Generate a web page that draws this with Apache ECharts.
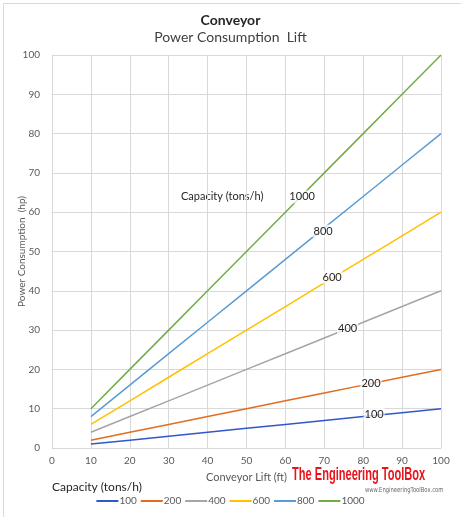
<!DOCTYPE html>
<html><head><meta charset="utf-8">
<script src="https://cdn.jsdelivr.net/npm/echarts@6/dist/echarts.min.js"></script>
<style>html,body{margin:0;padding:0;background:#fff}#c{width:461px;height:517px}</style>
</head><body><div id="c"></div>
<script>
const lift = [10, 20, 30, 40, 50, 60, 70, 80, 90, 100];
const cap100 = [1, 2, 3, 4, 5, 6, 7, 8, 9, 10];
const cap200 = [2, 4, 6, 8, 10, 12, 14, 16, 18, 20];
const cap400 = [4, 8, 12, 16, 20, 24, 28, 32, 36, 40];
const cap600 = [6, 12, 18, 24, 30, 36, 42, 48, 54, 60];
const cap800 = [8, 16, 24, 32, 40, 48, 56, 64, 72, 80];
const cap1000 = [10, 20, 30, 40, 50, 60, 70, 80, 90, 100];
const seriesNames = ['100', '200', '400', '600', '800', '1000'];
const seriesValues = [cap100, cap200, cap400, cap600, cap800, cap1000];
const colors = ['#3158C8', '#E36C1E', '#A5A5A5', '#FFC000', '#5B9BD5', '#70AD47'];
// inline label positions (data units) for each series
const labelAt = [[82.8, 8.6], [82, 16.5], [76, 30.5], [72, 43.5], [69.7, 55.2], [64.3, 63.9]];

const font = 'Lato, "Open Sans", sans-serif';
const chart = echarts.init(document.getElementById('c'), null, {renderer: 'canvas'});
chart.setOption({
  animation: false,
  color: colors,
  title: [
    {text: 'Conveyor', left: 'center', top: 8, textStyle: {fontFamily: font, fontSize: 14, fontWeight: 'bold', color: '#262626'}},
    {text: 'Power Consumption  Lift', left: 'center', top: 25, textStyle: {fontFamily: font, fontSize: 14, fontWeight: 'normal', color: '#404040'}}
  ],
  grid: {left: 52, right: 20, top: 55, bottom: 69, containLabel: false, outerBoundsMode: 'none'},
  xAxis: {
    type: 'value', min: 0, max: 100, interval: 10,
    name: 'Conveyor Lift (ft)', nameLocation: 'middle', nameGap: 24, nameMoveOverlap: false,
    nameTextStyle: {fontFamily: font, fontSize: 11, color: '#595959'},
    axisLine: {show: true, lineStyle: {color: '#D9D9D9'}},
    axisTick: {show: false},
    axisLabel: {fontFamily: font, fontSize: 10, color: '#595959', margin: 8},
    splitLine: {show: true, lineStyle: {color: '#D9D9D9'}}
  },
  yAxis: {
    type: 'value', min: 0, max: 100, interval: 10,
    name: 'Power Consumption  (hp)', nameLocation: 'middle', nameGap: 25, nameRotate: 90, nameMoveOverlap: false,
    nameTextStyle: {fontFamily: font, fontSize: 10, color: '#595959'},
    axisLine: {show: true, lineStyle: {color: '#D9D9D9'}},
    axisTick: {show: false},
    axisLabel: {fontFamily: font, fontSize: 10, color: '#595959', margin: 12},
    splitLine: {show: true, lineStyle: {color: '#D9D9D9'}}
  },
  legend: {
    bottom: 6, left: 'center', itemGap: 4, itemWidth: 22, itemHeight: 2,
    icon: 'rect',
    textStyle: {fontFamily: font, fontSize: 10, color: '#595959', padding: [0, 6, 0, -4]},
    data: seriesNames
  },
  graphic: [
    {type: 'rect', left: 1, top: 1, shape: {width: 458, height: 514}, style: {fill: 'none', stroke: '#D9D9D9', lineWidth: 1}, silent: true},
    {type: 'text', left: 181, top: 191, style: {text: 'Capacity (tons/h)', font: '11px ' + font, fill: '#262626'}},
    {type: 'text', left: 52, top: 481, style: {text: 'Capacity (tons/h)', font: '12px ' + font, fill: '#262626'}},
    {type: 'text', x: 292, y: 466, scaleX: 0.615, style: {text: 'The Engineering ToolBox', font: 'bold 18px "Liberation Sans", sans-serif', fill: '#E8141B'}},
    {type: 'text', x: 365, y: 487, scaleX: 0.75, style: {text: 'www.EngineeringToolBox.com', font: '7px "DejaVu Sans", sans-serif', fill: '#666'}}
  ],
  series: seriesNames.map((n, i) => ({
    name: n, type: 'line', symbol: 'none',
    lineStyle: {width: 1.5, color: colors[i]},
    data: lift.map((x, j) => [x, seriesValues[i][j]]),
    markPoint: {
      symbol: 'circle', symbolSize: 0,
      data: [{coord: labelAt[i]}],
      label: {show: true, position: 'inside', formatter: n, fontFamily: font, fontSize: 11, color: '#262626',
        backgroundColor: 'rgba(255,255,255,0.75)', padding: [1, 1]}
    }
  }))
});
</script></body></html>
